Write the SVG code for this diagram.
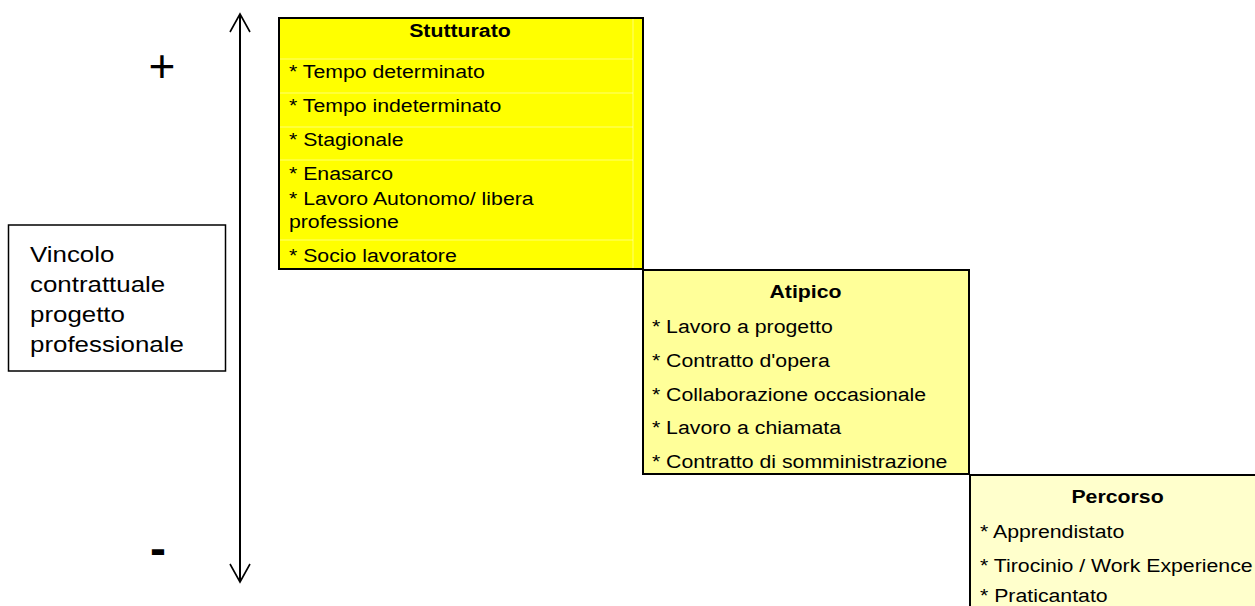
<svg xmlns="http://www.w3.org/2000/svg" width="1255" height="606" viewBox="0 0 1255 606">
<style>
text{font-family:"Liberation Sans",Arial,sans-serif;fill:#000}
.it{font-size:19px}
.hd{font-size:19px;font-weight:bold;text-anchor:middle}
.lb{font-size:22.5px}
.box{stroke:#000;stroke-width:2}
.grid{stroke:#ffffff;stroke-opacity:0.45;stroke-width:1}
</style>
<defs>
<marker id="vh" markerUnits="userSpaceOnUse" markerWidth="40" markerHeight="40" refX="0" refY="0" viewBox="-20 -20 40 40" orient="auto-start-reverse" overflow="visible">
<path d="M -18 -10 L 0 0 L -18 10" fill="none" stroke="#000" stroke-width="1.6"/>
</marker>
</defs>
<rect width="1255" height="606" fill="#fff"/>

<g id="connectors">
<line x1="240" y1="14" x2="240" y2="582" stroke="#000" stroke-width="2" marker-start="url(#vh)" marker-end="url(#vh)"/>
</g>

<g id="scale-marks">
<text x="162" y="82" font-size="46" text-anchor="middle">+</text>
<text x="158" y="565" font-size="48" font-weight="bold" text-anchor="middle">-</text>
</g>

<g id="label">
<rect x="8.5" y="225" width="217" height="146" fill="#fff" stroke="#000" stroke-width="1.5"/>
<g transform="scale(1.15 1)">
<text class="lb" x="26.1" y="262">Vincolo</text>
<text class="lb" x="26.1" y="292">contrattuale</text>
<text class="lb" x="26.1" y="322">progetto</text>
<text class="lb" x="26.1" y="352">professionale</text>
</g>
</g>

<g id="stutturato">
<rect class="box" x="279" y="18" width="364" height="251" fill="#ffff00"/>
<g class="grid">
<line x1="280" y1="59" x2="633" y2="59"/>
<line x1="280" y1="93" x2="633" y2="93"/>
<line x1="280" y1="127" x2="633" y2="127"/>
<line x1="280" y1="160" x2="633" y2="160"/>
<line x1="280" y1="240" x2="633" y2="240"/>
<line x1="633" y1="19" x2="633" y2="268"/>
</g>
<g transform="scale(1.12 1)">
<text class="hd" x="410.7" y="37">Stutturato</text>
<text class="it" x="258" y="78">* Tempo determinato</text>
<text class="it" x="258" y="112">* Tempo indeterminato</text>
<text class="it" x="258" y="146">* Stagionale</text>
<text class="it" x="258" y="180">* Enasarco</text>
<text class="it" x="258" y="205">* Lavoro Autonomo/ libera</text>
<text class="it" x="258" y="228">professione</text>
<text class="it" x="258" y="262">* Socio lavoratore</text>
</g>
</g>

<g id="atipico">
<rect class="box" x="643" y="270" width="326" height="204" fill="#ffff99"/>
<g transform="scale(1.12 1)">
<text class="hd" x="719.2" y="298">Atipico</text>
<text class="it" x="582.1" y="333">* Lavoro a progetto</text>
<text class="it" x="582.1" y="367">* Contratto d'opera</text>
<text class="it" x="582.1" y="401">* Collaborazione occasionale</text>
<text class="it" x="582.1" y="434">* Lavoro a chiamata</text>
<text class="it" x="582.1" y="468">* Contratto di somministrazione</text>
</g>
</g>

<g id="percorso">
<rect class="box" x="970" y="475" width="300" height="150" fill="#ffffcc"/>
<g transform="scale(1.12 1)">
<text class="hd" x="997.8" y="503">Percorso</text>
<text class="it" x="875" y="538">* Apprendistato</text>
<text class="it" x="875" y="572">* Tirocinio / Work Experience</text>
<text class="it" x="875" y="602">* Praticantato</text>
</g>
</g>
</svg>
